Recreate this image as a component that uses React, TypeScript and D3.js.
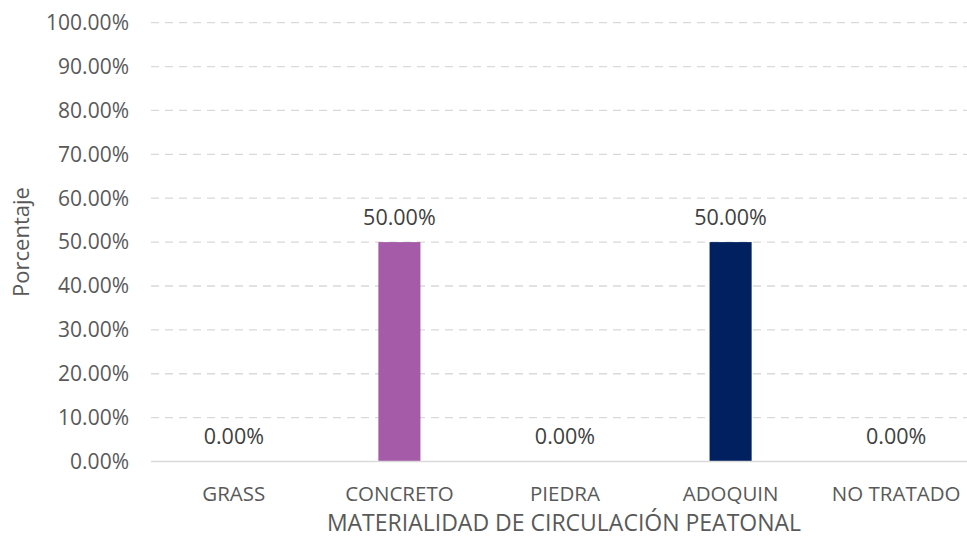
import { useEffect, useRef } from "react";
import * as d3 from "d3";

const categories = ["GRASS", "CONCRETO", "PIEDRA", "ADOQUIN", "NO TRATADO"];
const values = [0, 0.5, 0, 0.5, 0];
const barColors = ["#A55BA7", "#A55BA7", "#A55BA7", "#002060", "#002060"];
const yTicks = [0, 0.1, 0.2, 0.3, 0.4, 0.5, 0.6, 0.7, 0.8, 0.9, 1.0];

const App = () => {
  const svgRef = useRef<SVGSVGElement | null>(null);

  useEffect(() => {
    const width = 967;
    const height = 542;
    const font = "'Open Sans', sans-serif";
    const textColor = "#595959";

    const svg = d3.select(svgRef.current).attr("width", width).attr("height", height);
    svg.selectAll("*").remove();

    const x = d3
      .scaleBand()
      .domain(categories)
      .range([151, 979])
      .paddingInner(0.746)
      .paddingOuter(0.373);

    const y = d3.scaleLinear().domain([0, 1]).range([461.5, 22.7]);

    // gridlines
    svg
      .append("g")
      .selectAll("line")
      .data(yTicks.slice(1))
      .enter()
      .append("line")
      .attr("x1", 151)
      .attr("x2", 979)
      .attr("y1", (d) => y(d))
      .attr("y2", (d) => y(d))
      .attr("stroke", "#d9d9d9")
      .attr("stroke-width", 1.3)
      .attr("stroke-dasharray", "8,6");

    // y tick labels
    svg
      .append("g")
      .selectAll("text")
      .data(yTicks)
      .enter()
      .append("text")
      .attr("x", 129)
      .attr("y", (d) => y(d))
      .attr("dy", "0.35em")
      .attr("text-anchor", "end")
      .style("font-family", font)
      .style("font-size", "21px")
      .attr("fill", textColor)
      .text((d) => (d * 100).toFixed(2) + "%");

    // bars
    svg
      .append("g")
      .selectAll("rect")
      .data(values)
      .enter()
      .append("rect")
      .attr("x", (d, i) => x(categories[i]) as number)
      .attr("y", (d) => y(d))
      .attr("width", x.bandwidth())
      .attr("height", (d) => y(0) - y(d))
      .attr("fill", (d, i) => barColors[i]);

    // baseline
    svg
      .append("line")
      .attr("x1", 151)
      .attr("x2", 979)
      .attr("y1", y(0))
      .attr("y2", y(0))
      .attr("stroke", "#d9d9d9")
      .attr("stroke-width", 1.5);

    // value labels
    svg
      .append("g")
      .selectAll("text")
      .data(values)
      .enter()
      .append("text")
      .attr("x", (d, i) => (x(categories[i]) as number) + x.bandwidth() / 2)
      .attr("y", (d) => y(d) - 17.5)
      .attr("text-anchor", "middle")
      .style("font-family", font)
      .style("font-size", "21.5px")
      .attr("fill", "#404040")
      .text((d) => (d * 100).toFixed(2) + "%");

    // category labels
    svg
      .append("g")
      .selectAll("text")
      .data(categories)
      .enter()
      .append("text")
      .attr("x", (d) => (x(d) as number) + x.bandwidth() / 2)
      .attr("y", 501)
      .attr("text-anchor", "middle")
      .style("font-family", font)
      .style("font-size", "20.5px")
      .attr("fill", textColor)
      .text((d) => d);

    // axis titles
    svg
      .append("text")
      .attr("x", 564)
      .attr("y", 531)
      .attr("text-anchor", "middle")
      .style("font-family", font)
      .style("font-size", "23px")
      .attr("fill", textColor)
      .text("MATERIALIDAD DE CIRCULACIÓN PEATONAL");

    svg
      .append("text")
      .attr("transform", `translate(29,242) rotate(-90)`)
      .attr("text-anchor", "middle")
      .style("font-family", font)
      .style("font-size", "22px")
      .attr("fill", textColor)
      .text("Porcentaje");
  }, []);

  return (
    <div style={{ position: "absolute", left: 0, top: 0 }}>
      <svg ref={svgRef} style={{ display: "block" }}></svg>
    </div>
  );
};

export default App;
